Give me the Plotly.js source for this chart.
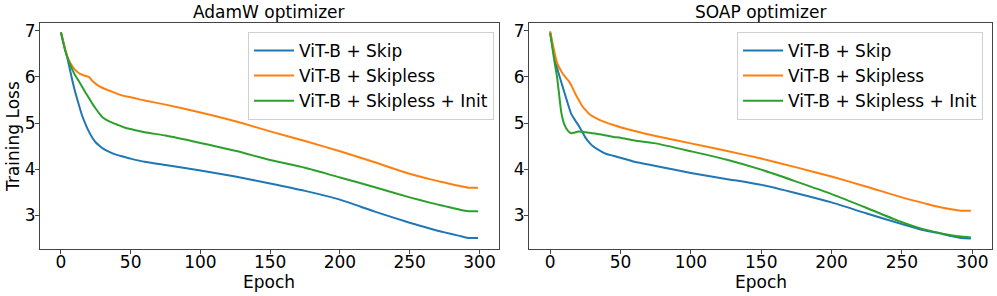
<!DOCTYPE html>
<html>
<head>
<meta charset="utf-8">
<script src="https://cdn.plot.ly/plotly-3.0.1.min.js"></script>
<style>html,body{margin:0;padding:0;background:#fff;}#chart{width:997px;height:296px;}</style>
</head>
<body>
<div id="chart"></div>
<script>
const epochs = [0, 3, 5, 8, 10, 13, 15, 18, 20, 23, 25, 28, 30, 35, 40, 45, 50, 60, 75, 100, 125, 150, 175, 200, 225, 250, 265, 275, 285, 292, 299];

const seriesNames = ["ViT-B + Skip", "ViT-B + Skipless", "ViT-B + Skipless + Init"];
const panelTitles = ["AdamW optimizer", "SOAP optimizer"];
const xTitle = "Epoch";
const yTitle = "Training Loss";

const adamwSkip = [6.97, 6.60, 6.36, 5.95, 5.70, 5.38, 5.18, 4.95, 4.82, 4.66, 4.58, 4.50, 4.45, 4.37, 4.31, 4.27, 4.23, 4.16, 4.09, 3.97, 3.84, 3.69, 3.53, 3.34, 3.08, 2.84, 2.71, 2.63, 2.56, 2.51, 2.51];
const adamwSkipless = [6.97, 6.60, 6.41, 6.24, 6.16, 6.08, 6.05, 6.02, 6.00, 5.90, 5.85, 5.79, 5.76, 5.70, 5.64, 5.59, 5.56, 5.49, 5.40, 5.23, 5.04, 4.82, 4.61, 4.39, 4.15, 3.90, 3.78, 3.71, 3.64, 3.60, 3.60];
const adamwSkiplessInit = [6.97, 6.58, 6.40, 6.17, 6.05, 5.90, 5.80, 5.64, 5.55, 5.40, 5.31, 5.19, 5.12, 5.03, 4.97, 4.91, 4.87, 4.80, 4.73, 4.57, 4.40, 4.20, 4.03, 3.82, 3.61, 3.39, 3.27, 3.20, 3.13, 3.09, 3.09];

const soapSkip = [6.97, 6.45, 6.19, 5.88, 5.68, 5.38, 5.20, 5.05, 4.96, 4.80, 4.69, 4.57, 4.51, 4.41, 4.33, 4.29, 4.25, 4.16, 4.07, 3.92, 3.79, 3.66, 3.48, 3.28, 3.04, 2.81, 2.68, 2.62, 2.55, 2.51, 2.50];
const soapSkipless = [6.99, 6.55, 6.30, 6.12, 6.03, 5.92, 5.82, 5.63, 5.52, 5.36, 5.29, 5.19, 5.15, 5.07, 5.01, 4.96, 4.91, 4.83, 4.72, 4.56, 4.40, 4.23, 4.04, 3.84, 3.62, 3.39, 3.27, 3.19, 3.13, 3.10, 3.10];
const soapSkiplessInit = [6.95, 6.35, 5.98, 5.22, 4.98, 4.82, 4.78, 4.80, 4.82, 4.81, 4.80, 4.79, 4.78, 4.76, 4.73, 4.70, 4.68, 4.62, 4.56, 4.39, 4.21, 3.99, 3.73, 3.46, 3.16, 2.85, 2.70, 2.63, 2.57, 2.54, 2.52];

const xTicks = [0, 50, 100, 150, 200, 250, 300];
const yTicks = [3, 4, 5, 6, 7];

const colors = ["#1f77b4", "#ff7f0e", "#2ca02c"];
const FONT = "DejaVu Sans, sans-serif";
const FS = 17;

const panels = [
  [adamwSkip, adamwSkipless, adamwSkiplessInit],
  [soapSkip, soapSkipless, soapSkiplessInit]
];

const traces = [];
panels.forEach((series, p) => {
  series.forEach((ys, i) => {
    traces.push({
      x: epochs, y: ys, type: "scatter", mode: "lines",
      name: seriesNames[i],
      line: {color: colors[i], width: 2, shape: "spline", smoothing: 0.6},
      xaxis: p === 0 ? "x" : "x2",
      yaxis: p === 0 ? "y" : "y2",
      legend: p === 0 ? "legend" : "legend2",
      showlegend: true
    });
  });
});

const axisBase = {
  showgrid: false, zeroline: false, showline: true, mirror: true,
  linecolor: "#444", linewidth: 1, ticks: "outside", ticklen: 4, tickcolor: "#444",
  tickfont: {family: FONT, size: FS, color: "#000"}
};

const legendBase = {
  font: {family: FONT, size: FS, color: "#000"},
  bgcolor: "rgba(255,255,255,0.8)", bordercolor: "#d0d0d0", borderwidth: 1,
  xanchor: "right", yanchor: "top", tracegroupgap: 0, itemwidth: 40
};

const xd1 = [0.0401, 0.5005], xd2 = [0.5306, 0.995], yd = [0.1588, 0.9223];
const txt = () => ({family: FONT, size: FS, color: "#000"});

const xAx = (dom, anchor) => Object.assign({}, axisBase, {domain: dom, range: [-15, 314], tickvals: xTicks, anchor: anchor, ticklabelstandoff: -6});
const yAx = (anchor) => Object.assign({}, axisBase, {domain: yd, range: [2.27, 7.17], tickvals: yTicks, anchor: anchor, ticklabelstandoff: -4});

const layout = {
  width: 997, height: 296,
  margin: {l: 0, r: 0, t: 0, b: 0},
  paper_bgcolor: "#fff", plot_bgcolor: "#fff",
  showlegend: true,
  xaxis: xAx(xd1, "y"),
  yaxis: yAx("x"),
  xaxis2: xAx(xd2, "y2"),
  yaxis2: yAx("x2"),
  legend: Object.assign({}, legendBase, {x: 0.4955, y: 0.892}),
  legend2: Object.assign({}, legendBase, {x: 0.986, y: 0.892}),
  annotations: [
    {text: panelTitles[0], xref: "paper", yref: "paper", x: (xd1[0] + xd1[1]) / 2, y: 0.958, xanchor: "center", yanchor: "middle",
     showarrow: false, font: txt()},
    {text: panelTitles[1], xref: "paper", yref: "paper", x: (xd2[0] + xd2[1]) / 2, y: 0.958, xanchor: "center", yanchor: "middle",
     showarrow: false, font: txt()},
    {text: xTitle, xref: "paper", yref: "paper", x: (xd1[0] + xd1[1]) / 2, y: 0.048, xanchor: "center", yanchor: "middle",
     showarrow: false, font: txt()},
    {text: xTitle, xref: "paper", yref: "paper", x: (xd2[0] + xd2[1]) / 2, y: 0.048, xanchor: "center", yanchor: "middle",
     showarrow: false, font: txt()},
    {text: yTitle, xref: "paper", yref: "paper", x: 0.013, y: 0.5405, xanchor: "center", yanchor: "middle", textangle: -90,
     showarrow: false, font: txt()}
  ]
};

Plotly.newPlot("chart", traces, layout, {staticPlot: true, displayModeBar: false});
</script>
</body>
</html>
